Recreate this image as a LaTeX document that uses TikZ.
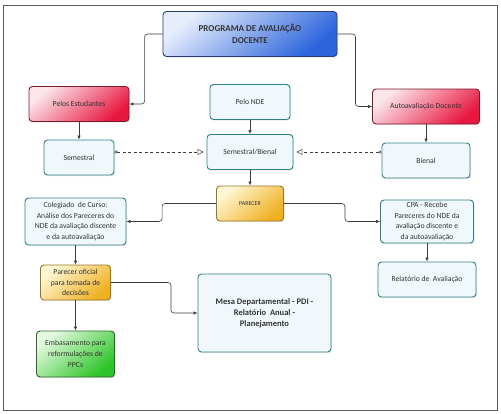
\documentclass[tikz,border=0pt]{standalone}
\usepackage{fontspec}
\setmainfont{Carlito}
\usetikzlibrary{arrows.meta,shadows}

\definecolor{lineGray}{HTML}{3C3C3C}
\definecolor{tealBorder}{HTML}{2F7F86}
\definecolor{paleFill}{HTML}{F1F8FB}
\definecolor{blueLight}{HTML}{E6EEFC}
\definecolor{blueDark}{HTML}{2C64DC}
\definecolor{blueBorder}{HTML}{2A3C78}
\definecolor{redLight}{HTML}{FBE6EC}
\definecolor{redDark}{HTML}{E8173F}
\definecolor{redBorder}{HTML}{7A1A2A}
\definecolor{yellowLight}{HTML}{FFF7D4}
\definecolor{yellowDark}{HTML}{F0B020}
\definecolor{yellowBorder}{HTML}{967628}
\definecolor{greenLight}{HTML}{E4FADF}
\definecolor{greenDark}{HTML}{2CC428}
\definecolor{greenBorder}{HTML}{2E662E}

\begin{document}
\begin{tikzpicture}
[x=1pt,y=-1pt,
  boxDecorate/.style={shape=rectangle,rounded corners=3.5pt,draw=tealBorder,line width=0.9pt,
    fill=paleFill,align=center,inner sep=1pt,text=black!80,
    font=\fontsize{7.7}{10.7}\selectfont,
    drop shadow={opacity=0.18,shadow xshift=1pt,shadow yshift=-1.2pt}},
  blueDecorate/.style={boxDecorate,draw=blueBorder,top color=blueLight,bottom color=blueDark,
    shading angle=40,font=\fontsize{9}{12}\selectfont\bfseries},
  redDecorate/.style={boxDecorate,draw=redBorder,top color=redLight,bottom color=redDark,shading angle=40},
  yellowDecorate/.style={boxDecorate,draw=yellowBorder,top color=yellowLight,bottom color=yellowDark,shading angle=40},
  greenDecorate/.style={boxDecorate,draw=greenBorder,top color=greenLight,bottom color=greenDark,shading angle=40},
  arrowDecorate/.style={draw=lineGray,line width=0.6pt,rounded corners=3pt,-{Latex[length=4pt,width=3.5pt]}},
  dashDecorate/.style={draw=lineGray,line width=0.5pt,dash pattern=on 3pt off 2.5pt,
    {Circle[open,length=3.2pt]}-{Triangle[open,length=6pt,width=6pt]},shorten >=3pt}]
\useasboundingbox (0,0) rectangle (501,413);
\draw[gray!70!black,line width=0.8pt] (3,5) rectangle (497,410);

%% nodes
\node (prog) at (250,34) [blueDecorate,minimum width=174pt,minimum height=45pt]
  {PROGRAMA DE AVALIAÇÃO\\DOCENTE};
\node (est) at (79,104) [redDecorate,minimum width=100pt,minimum height=35pt] {Pelos Estudantes};
\node (auto) at (426,106.5) [redDecorate,minimum width=107pt,minimum height=35pt] {Autoavaliação Docente};
\foreach \nodename/\x/\y/\w/\txt in {nde/250/102/80/Pelo NDE, sem/79/157.5/70/Semestral,
  semb/250/152/86/Semestral\slash Bienal, bien/426/160.5/88/Bienal, rel/427/279.5/98/Relatório de\ \ Avaliação}
{
  \node (\nodename) at (\x,\y) [boxDecorate,minimum width=\w pt,minimum height=35pt] {\txt};
}
\node (par) at (250,203.5) [yellowDecorate,minimum width=67pt,minimum height=35pt,
  font=\fontsize{6}{8}\selectfont] {PARECER};
\node (col) at (75.5,221.5) [boxDecorate,minimum width=101pt,minimum height=47pt]
  {Colegiado\ \ de Curso:\\Análise dos Pareceres do\\NDE da avaliação discente\\e da autoavaliação};
\node (cpa) at (427,221.5) [boxDecorate,minimum width=93pt,minimum height=43pt]
  {CPA - Recebe\\Pareceres do NDE da\\avaliação discente e\\da autoavaliação};
\node (pof) at (75.5,282.5) [yellowDecorate,minimum width=70pt,minimum height=35pt]
  {Parecer oficial\\para tomada de\\decisões};
\node (emb) at (75.5,354) [greenDecorate,minimum width=78pt,minimum height=46pt]
  {Embasamento para\\reformulações de\\PPCs};
\node (mesa) at (264.5,313) [boxDecorate,minimum width=133pt,minimum height=78pt,
  font=\fontsize{8.5}{11}\selectfont\bfseries]
  {Mesa Departamental - PDI -\\Relatório\ \ Anual -\\Planejamento};

%% connectors
\draw[arrowDecorate] (prog.west) -- ++(-18,0) |- (est.east);
\draw[arrowDecorate] (prog.east) -- ++(18,0) |- (auto.west);
\draw[arrowDecorate] (par.west) -- ++(-54,0) |- (col.east);
\draw[arrowDecorate] (par.east) -- ++(61,0) |- (cpa.west);
\draw[arrowDecorate] (pof.east) -- ++(60,0) |- (mesa.west);
\path
\foreach \startnode/\endnode in {est/sem, nde/semb, auto/bien, semb/par, col/pof, cpa/rel, pof/emb}
{
  (\startnode) edge[arrowDecorate] (\endnode)
};
\draw[dashDecorate] (sem.east |- semb.west) -- (semb.west);
\draw[dashDecorate] (bien.west |- semb.east) -- (semb.east);
\end{tikzpicture}
\end{document}
